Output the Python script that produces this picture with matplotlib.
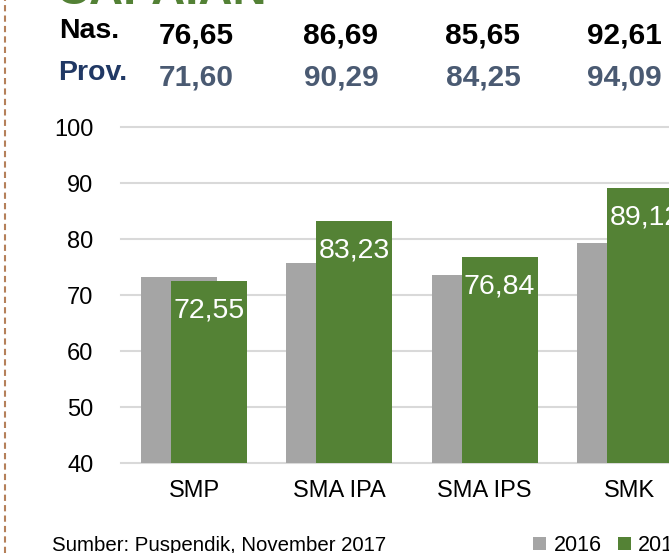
# -*- coding: utf-8 -*-
# Nilai rata-rata UN 2016 vs 2017 per jenjang (bar chart)

import numpy as np
import matplotlib
matplotlib.use("Agg")
import matplotlib.pyplot as plt
from matplotlib.lines import Line2D

plt.rcParams['font.family'] = ['Liberation Sans', 'DejaVu Sans']

# data
categories = ['SMP', 'SMA IPA', 'SMA IPS', 'SMK']
years = ['2016', '2017']
vals_2016 = [73.3, 75.8, 73.5, 79.2]
vals_2017 = [72.55, 83.23, 76.84, 89.12]
nas_vals = ['76,65', '86,69', '85,65', '92,61']
prov_vals = ['71,60', '90,29', '84,25', '94,09']
yticks = [40, 50, 60, 70, 80, 90, 100]

W, H = 669, 553
fig = plt.figure(figsize=(W / 100, H / 100), dpi=100)

# plot area runs past the right edge (picture is cropped)
ax_l, ax_r, ax_t, ax_b = 121.3, 702.6, 127, 463
ax = fig.add_axes([ax_l / W, (H - ax_b) / H, (ax_r - ax_l) / W, (ax_b - ax_t) / H])

x = np.arange(len(categories))
bw = 0.523
off = 0.103
gray = '#a5a5a5'
green = '#548235'
b1 = ax.bar(x - off, vals_2016, bw, color=gray, label=years[0], zorder=2)
b2 = ax.bar(x + off, vals_2017, bw, color=green, label=years[1], zorder=3)

for xi, v in zip(x + off, vals_2017):
    ax.annotate(f'{v:.2f}'.replace('.', ','), (xi, v), xytext=(0, -12),
                textcoords='offset points', ha='center', va='top',
                color='white', fontsize=20.5, zorder=4)

ax.set_xlim(-0.5, len(categories) - 0.5)
ax.set_ylim(40, 100)
ax.set_yticks(yticks)
ax.set_xticks(x)
ax.set_xticklabels(categories)
ax.tick_params(axis='y', length=0, pad=20, labelsize=17)
ax.tick_params(axis='x', length=0, pad=12, labelsize=17)
ax.set_axisbelow(True)
ax.yaxis.grid(True, color='#d9d9d9', lw=1.5)
for gl in ax.get_ygridlines():
    gl.set_clip_on(False)
for s in ax.spines.values():
    s.set_visible(False)

# header rows (title is cut off at the top edge of the picture)
col_x = [196, 341, 483, 624]
fig.text(55 / W, 1 - 4.5 / H, 'CAPAIAN', fontsize=34, fontweight='bold',
         color='#538135', ha='left', va='baseline')
fig.text(59 / W, 1 - 38 / H, 'Nas.', fontsize=20.5, fontweight='bold',
         color='black', ha='left', va='baseline')
fig.text(58 / W, 1 - 80 / H, 'Prov.', fontsize=20.5, fontweight='bold',
         color='#203864', ha='left', va='baseline')
for cx, nv, pv in zip(col_x, nas_vals, prov_vals):
    fig.text(cx / W, 1 - 43 / H, nv, fontsize=21.5, fontweight='bold',
             color='black', ha='center', va='baseline')
    fig.text(cx / W, 1 - 85 / H, pv, fontsize=21.5, fontweight='bold',
             color='#4a5a72', ha='center', va='baseline')

# source + legend
fig.text(52 / W, 1 - 551 / H, 'Sumber: Puspendik, November 2017',
         fontsize=14.7, ha='left', va='baseline')
fig.legend(handles=[b1, b2], labels=years, loc='upper left',
           bbox_to_anchor=(533 / W, 1 - 535 / H), ncol=2, frameon=False,
           fontsize=15.5, handlelength=0.6, handleheight=0.6,
           handletextpad=0.35, columnspacing=0.75, borderpad=0, borderaxespad=0)

# dashed border on the left
fig.add_artist(Line2D([4.5 / W, 4.5 / W], [0, 1], transform=fig.transFigure,
                      color='#b5805a', lw=1.5, ls=(0, (3, 2))))

fig.savefig('out.png', dpi=100)
